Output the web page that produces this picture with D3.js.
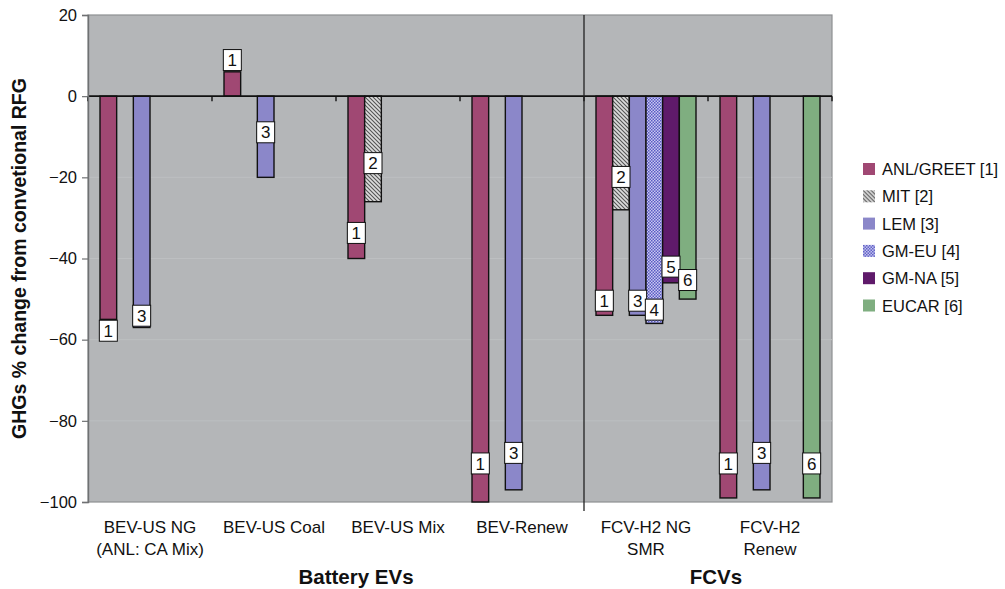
<!DOCTYPE html>
<html>
<head>
<meta charset="utf-8">
<script src="https://cdn.jsdelivr.net/npm/d3@7"></script>
<style>
  html, body { margin: 0; padding: 0; background: #ffffff; }
  svg { display: block; font-family: "Liberation Sans", Arial, Helvetica, sans-serif; }
</style>
</head>
<body>
<svg id="chart" width="1005" height="589"></svg>
<script>
// Categories (pathways) and their two-line tick labels
const categories = ["BEV-US NG", "BEV-US Coal", "BEV-US Mix", "BEV-Renew", "FCV-H2 NG SMR", "FCV-H2 Renew"];
const categoryLabels = [["BEV-US NG", "(ANL: CA Mix)"], ["BEV-US Coal"], ["BEV-US Mix"], ["BEV-Renew"], ["FCV-H2 NG", "SMR"], ["FCV-H2", "Renew"]];

// Studies (series)
const seriesNames = ["ANL/GREET [1]", "MIT [2]", "LEM [3]", "GM-EU [4]", "GM-NA [5]", "EUCAR [6]"];
const seriesTags = ["1", "2", "3", "4", "5", "6"];

// GHG % change from conventional RFG, one value per category (null = not studied)
const anlGreet = [-55, 6, -40, -100, -54, -99];
const mit      = [null, null, -26, null, -28, null];
const lem      = [-57, -20, null, -97, -54, -97];
const gmEu     = [null, null, null, null, -56, null];
const gmNa     = [null, null, null, null, -46, null];
const eucar    = [null, null, null, null, -50, -99];

// Where each study tag box sits along the value axis
const anlTagAt   = [-57.8, 8.9, -33.7, -90.5, -50.4, -90.5];
const mitTagAt   = [null, null, -16.5, null, -19.9, null];
const lemTagAt   = [-54.1, -8.9, null, -87.9, -50.4, -87.9];
const gmEuTagAt  = [null, null, null, null, -52.6, null];
const gmNaTagAt  = [null, null, null, null, -42, null];
const eucarTagAt = [null, null, null, null, -45.3, -90.5];

const yTicks = [20, 0, -20, -40, -60, -80, -100];
const groupTitles = ["Battery EVs", "FCVs"];

const seriesValues = [anlGreet, mit, lem, gmEu, gmNa, eucar];
const seriesTagAt = [anlTagAt, mitTagAt, lemTagAt, gmEuTagAt, gmNaTagAt, eucarTagAt];

const svg = d3.select("#chart");
const plot = { left: 88, right: 832, top: 15, bottom: 502 };

const y = d3.scaleLinear().domain([-100, 20]).range([plot.bottom, plot.top]);
const x0 = d3.scaleBand().domain(categories).range([plot.left, plot.right]);
const x1 = d3.scaleBand().domain(seriesNames).range([12, x0.bandwidth() - 12]);

// Fill patterns for the hatched and dotted studies
const defs = svg.append("defs");
const hatch = defs.append("pattern").attr("id", "hatch")
  .attr("patternUnits", "userSpaceOnUse").attr("width", 4).attr("height", 4);
hatch.append("rect").attr("width", 4).attr("height", 4).attr("fill", "#dcdcdc");
hatch.append("path").attr("d", "M-1,-1 L5,5 M-1,3 L1,5 M3,-1 L5,1")
  .attr("stroke", "#555").attr("stroke-width", 1.1);

const dots = defs.append("pattern").attr("id", "dots")
  .attr("patternUnits", "userSpaceOnUse").attr("width", 3).attr("height", 3);
dots.append("rect").attr("width", 3).attr("height", 3).attr("fill", "#c9c9f0");
dots.append("rect").attr("width", 1.5).attr("height", 1.5).attr("fill", "#5a5ac4");
dots.append("rect").attr("x", 1.5).attr("y", 1.5).attr("width", 1.5).attr("height", 1.5).attr("fill", "#5a5ac4");

const fills = ["#a04873", "url(#hatch)", "#8b87c9", "url(#dots)", "#5f1a6a", "#7fae80"];

// Plot background
svg.append("rect")
  .attr("x", plot.left).attr("y", plot.top)
  .attr("width", plot.right - plot.left).attr("height", plot.bottom - plot.top)
  .attr("fill", "#b4b6b8").attr("stroke", "#8e9092").attr("stroke-width", 1.2);

// Faint horizontal gridlines
svg.append("g").selectAll("line")
  .data(yTicks.filter(d => d !== 0 && d !== 20 && d !== -100))
  .join("line")
  .attr("x1", plot.left).attr("x2", plot.right)
  .attr("y1", d => y(d)).attr("y2", d => y(d))
  .attr("stroke", "#bdbfc1").attr("stroke-width", 1);

// Bars
const barData = [];
seriesValues.forEach((vals, si) => {
  vals.forEach((v, ci) => {
    if (v !== null) barData.push({ s: seriesNames[si], si, c: categories[ci], v, tag: seriesTagAt[si][ci] });
  });
});

svg.append("g").selectAll("rect")
  .data(barData)
  .join("rect")
  .attr("x", d => x0(d.c) + x1(d.s))
  .attr("width", x1.bandwidth())
  .attr("y", d => Math.min(y(0), y(d.v)))
  .attr("height", d => Math.abs(y(d.v) - y(0)))
  .attr("fill", d => fills[d.si])
  .attr("stroke", "#111").attr("stroke-width", 1.4);

// Zero baseline with category ticks
svg.append("line")
  .attr("x1", plot.left).attr("x2", plot.right)
  .attr("y1", y(0)).attr("y2", y(0))
  .attr("stroke", "#111").attr("stroke-width", 1.8);

const bounds = categories.map(c => x0(c)).concat([plot.right]);
svg.append("g").selectAll("line")
  .data(bounds)
  .join("line")
  .attr("x1", d => d).attr("x2", d => d)
  .attr("y1", y(0)).attr("y2", y(0) + 5)
  .attr("stroke", "#111").attr("stroke-width", 1.4);

// Divider between battery and fuel-cell vehicles
const divX = x0(categories[4]);
svg.append("line")
  .attr("x1", divX).attr("x2", divX)
  .attr("y1", plot.top).attr("y2", 511)
  .attr("stroke", "#222").attr("stroke-width", 1.3);

// Study tag boxes
const tags = svg.append("g").selectAll("g")
  .data(barData)
  .join("g")
  .attr("transform", d => `translate(${x0(d.c) + x1(d.s) + x1.bandwidth() / 2},${y(d.tag)})`);
tags.append("rect")
  .attr("x", -9).attr("y", -10.5).attr("width", 18).attr("height", 21)
  .attr("fill", "#ffffff").attr("stroke", "#111").attr("stroke-width", 1);
tags.append("text")
  .attr("text-anchor", "middle").attr("y", 6.2)
  .attr("font-size", 17).attr("fill", "#111")
  .text(d => seriesTags[d.si]);

// Value axis
const yAxis = svg.append("g")
  .attr("transform", `translate(${plot.left},0)`)
  .call(d3.axisLeft(y).tickValues(yTicks).tickSize(6).tickPadding(5));
yAxis.select(".domain").attr("stroke", "#6f7173").attr("stroke-width", 1.4);
yAxis.selectAll(".tick line").attr("stroke", "#6f7173").attr("stroke-width", 1.2);
yAxis.selectAll(".tick text").attr("font-size", 16.5).attr("fill", "#111")
  .attr("font-family", "'Liberation Sans', Arial, sans-serif");

svg.append("text")
  .attr("transform", `translate(26,${(plot.top + plot.bottom) / 2}) rotate(-90)`)
  .attr("text-anchor", "middle")
  .attr("font-size", 19.5).attr("font-weight", "bold").attr("fill", "#111")
  .text("GHGs % change from convetional RFG");

// Category labels
const catText = svg.append("g").selectAll("text")
  .data(categories)
  .join("text")
  .attr("text-anchor", "middle")
  .attr("font-size", 17).attr("fill", "#111")
  .attr("x", d => x0(d) + x0.bandwidth() / 2)
  .attr("y", 533);
catText.selectAll("tspan")
  .data((d, i) => categoryLabels[i])
  .join("tspan")
  .attr("x", function () { return d3.select(this.parentNode).attr("x"); })
  .attr("dy", (d, i) => i === 0 ? 0 : 22)
  .text(d => d);

// Group titles
svg.append("text").attr("x", 356).attr("y", 584).attr("text-anchor", "middle")
  .attr("font-size", 20.5).attr("font-weight", "bold").attr("fill", "#111").text(groupTitles[0]);
svg.append("text").attr("x", 716).attr("y", 584).attr("text-anchor", "middle")
  .attr("font-size", 20.5).attr("font-weight", "bold").attr("fill", "#111").text(groupTitles[1]);

// Legend
const legend = svg.append("g").attr("transform", "translate(863,163)");
const items = legend.selectAll("g")
  .data(seriesNames)
  .join("g")
  .attr("transform", (d, i) => `translate(0,${i * 27.3})`);
items.append("rect")
  .attr("width", 12).attr("height", 12)
  .attr("fill", (d, i) => fills[i]);
items.append("text")
  .attr("x", 19).attr("y", 12)
  .attr("font-size", 16.5).attr("fill", "#111")
  .text(d => d);
</script>
</body>
</html>
